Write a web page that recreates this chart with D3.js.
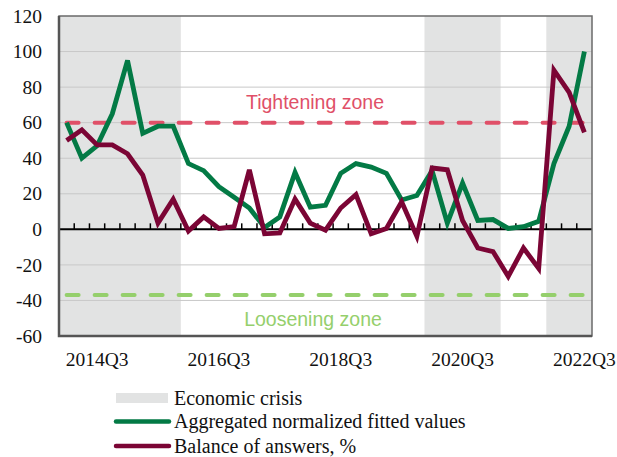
<!DOCTYPE html>
<html>
<head>
<meta charset="utf-8">
<script src="https://cdn.jsdelivr.net/npm/d3@7.9.0/dist/d3.min.js"></script>
<style>
  html, body { margin: 0; padding: 0; background: #fff; }
  svg { display: block; }
  .num { font-family: "Liberation Serif", "Times New Roman", serif; font-size: 19.5px; fill: #111; }
  .lgtext { font-family: "Liberation Serif", "Times New Roman", serif; font-size: 20px; fill: #111; }
  .zone { font-family: "Liberation Sans", Arial, sans-serif; font-size: 19.5px; }
</style>
</head>
<body>
<svg id="chart" width="617" height="457"></svg>
<script>
// quarters 2014Q1 .. 2022Q3
const quarters = d3.range(2014, 2023).flatMap(y => [1, 2, 3, 4].map(q => `${y}Q${q}`)).slice(0, 35);

const fitted = [60, 40, 47, 65, 95, 54, 58, 58, 37, 33, 24, 18, 12, 1, 7, 32, 12.5, 13.5,
  31.5, 37, 35, 31.5, 16.5, 19, 33, 3.5, 26, 5, 5.5, 0.5, 1.5, 4.5, 37, 58, 100];
const balance = [50, 56, 47.5, 47.5, 42.5, 30.5, 3.5, 17, -1, 7, 0.5, 1.5, 33.5, -2.5, -2, 17, 3.5, -0.5,
  12, 19.5, -2.5, 0.5, 15.5, -4, 34.5, 33.5, 5, -10.5, -12.5, -26.5, -10.5, -22, 89.5, 77, 54.5];

const crisis = [['2014Q1', '2015Q4'], ['2020Q1', '2021Q1'], ['2022Q1', '2022Q3']];
const tighten = 60;
const loosen = -37;
const xLabels = ['2014Q3', '2016Q3', '2018Q3', '2020Q3', '2022Q3'];
const yTicks = [-60, -40, -20, 0, 20, 40, 60, 80, 100, 120];

const green = '#037a45', maroon = '#7b0535', shade = '#e2e3e3';

const svg = d3.select('#chart');
const L = 59, R = 592, T = 16, B = 336;

const x = d3.scaleBand().domain(quarters).range([L, R]).padding(0);
const y = d3.scaleLinear().domain([-60, 120]).range([B, T]);
const cx = q => x(q) + x.bandwidth() / 2;

// crisis shading
svg.selectAll('rect.crisis')
  .data(crisis)
  .join('rect')
  .attr('x', d => x(d[0]))
  .attr('width', d => x(d[1]) + x.bandwidth() - x(d[0]))
  .attr('y', T)
  .attr('height', B - T)
  .attr('fill', shade);

// grid
svg.selectAll('line.grid')
  .data(yTicks.filter(v => v !== 0 && v !== -60 && v !== 120))
  .join('line')
  .attr('x1', L).attr('x2', R)
  .attr('y1', d => y(d)).attr('y2', d => y(d))
  .attr('stroke', '#c8c8c8')
  .attr('stroke-width', 1);

// y tick labels
svg.selectAll('text.ytick')
  .data(yTicks)
  .join('text')
  .attr('class', 'num')
  .attr('x', 42)
  .attr('y', d => y(d))
  .attr('dy', '0.34em')
  .attr('text-anchor', 'end')
  .text(d => d);

// zero axis with quarter ticks
svg.append('line')
  .attr('x1', L).attr('x2', R)
  .attr('y1', y(0)).attr('y2', y(0))
  .attr('stroke', '#000').attr('stroke-width', 2);

svg.selectAll('line.qtick')
  .data(quarters.slice(1))
  .join('line')
  .attr('x1', d => x(d)).attr('x2', d => x(d))
  .attr('y1', y(0)).attr('y2', y(0) - 6)
  .attr('stroke', '#000').attr('stroke-width', 1.5);

// zone lines
function zoneLine(v, color) {
  svg.append('line')
    .attr('x1', cx(quarters[0])).attr('x2', cx(quarters[quarters.length - 1]))
    .attr('y1', y(v)).attr('y2', y(v))
    .attr('stroke', color)
    .attr('stroke-width', 4)
    .attr('stroke-dasharray', '12,16')
    .attr('stroke-linecap', 'round');
}
zoneLine(tighten, '#e05068');
zoneLine(loosen, '#95cf6c');

svg.append('text').attr('class', 'zone')
  .attr('x', 315).attr('y', 109)
  .attr('text-anchor', 'middle')
  .attr('fill', '#e05068')
  .text('Tightening zone');

svg.append('text').attr('class', 'zone')
  .attr('x', 313).attr('y', 326)
  .attr('text-anchor', 'middle')
  .attr('fill', '#95cf6c')
  .text('Loosening zone');

// series
const line = d3.line().x((d, i) => cx(quarters[i])).y(d => y(d));

svg.append('path')
  .datum(fitted)
  .attr('d', line)
  .attr('fill', 'none')
  .attr('stroke', green)
  .attr('stroke-width', 4.8);

svg.append('path')
  .datum(balance)
  .attr('d', line)
  .attr('fill', 'none')
  .attr('stroke', maroon)
  .attr('stroke-width', 4.8);

// frame
svg.append('rect')
  .attr('x', L).attr('y', T)
  .attr('width', R - L).attr('height', B - T)
  .attr('fill', 'none')
  .attr('stroke', '#6a6a6a')
  .attr('stroke-width', 1.5);
svg.append('path')
  .attr('d', `M${L},${T}V${B}H${R}`)
  .attr('fill', 'none')
  .attr('stroke', '#555')
  .attr('stroke-width', 2.5);

// x labels
svg.selectAll('text.xtick')
  .data(xLabels)
  .join('text')
  .attr('class', 'num')
  .attr('x', d => cx(d))
  .attr('y', 366)
  .attr('text-anchor', 'middle')
  .text(d => d);

// legend
const lg = svg.append('g');
lg.append('rect')
  .attr('x', 116).attr('y', 393).attr('width', 52).attr('height', 10)
  .attr('fill', shade);
const legendLines = [
  { label: 'Aggregated normalized fitted values', color: green, y: 421.5 },
  { label: 'Balance of answers, %', color: maroon, y: 446 }
];
lg.selectAll('line.lg')
  .data(legendLines)
  .join('line')
  .attr('x1', 116).attr('x2', 169)
  .attr('y1', d => d.y).attr('y2', d => d.y)
  .attr('stroke', d => d.color)
  .attr('stroke-width', 4.5)
  .attr('stroke-linecap', 'round');
lg.selectAll('text.lg')
  .data([{ label: 'Economic crisis', y: 398 }, ...legendLines])
  .join('text')
  .attr('class', 'lgtext')
  .attr('x', 174)
  .attr('y', d => d.y)
  .attr('dy', '0.33em')
  .text(d => d.label);
</script>
</body>
</html>
